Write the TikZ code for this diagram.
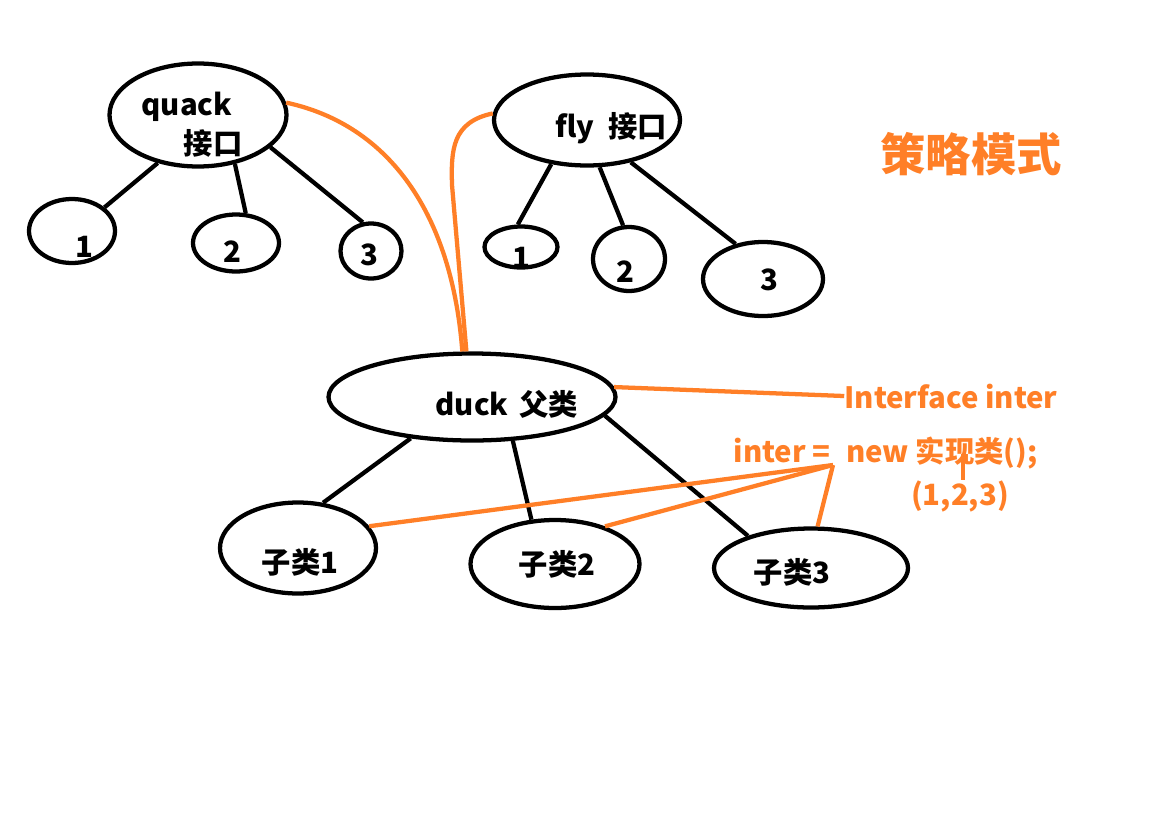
\documentclass[tikz,border=0pt]{standalone}
\usepackage{fontspec}
\setmainfont{Noto Sans CJK SC}
\usetikzlibrary{shapes.geometric}
\definecolor{paintorange}{HTML}{FF7F27}

\begin{document}
\begin{tikzpicture}[
    x=0.75pt, y=-0.75pt,
    oval/.style 2 args={ellipse, draw, line width=3.2pt, inner sep=0pt,
                 minimum width=#1*0.75pt, minimum height=#2*0.75pt},
    lbl/.style={anchor=base, inner sep=0pt, font=\fontsize{22}{26}\selectfont\bfseries},
    olbl/.style={lbl, text=paintorange},
    link/.style={line width=3.2pt},
    olink/.style={line width=3.2pt, paintorange}
  ]
  \fill[white] (0,0) rectangle (1173,814);

  % quack interface
  \node[oval={177}{103}] (quack) at (198,115) {};
  \node[lbl] (quacktxt) at (187,115) {quack};
  \node[lbl] (quackcn) at (213,154) {接口};
  \node[oval={86}{64}] (q1) at (72,231) {};
  \node[oval={86}{57}] (q2) at (236,243) {};
  \node[oval={61}{55}] (q3) at (371,251) {};
  \node[lbl] (q1txt) at (84,257) {1};
  \node[lbl] (q2txt) at (232,262) {2};
  \node[lbl] (q3txt) at (369,265) {3};
  \draw[link] (quack.230) -- (q1.36);
  \draw[link] (quack.-53) -- (q2.72);
  \draw[link] (quack.-24) -- (q3.106);

  % fly interface
  \node[oval={186}{91}] (fly) at (587,120) {};
  \node[lbl] (flytxt) at (611,137) {fly\hspace{0.25em} 接口};
  \node[oval={73}{41}] (f1) at (521,247) {};
  \node[oval={72}{64}] (f2) at (629,259) {};
  \node[oval={120}{74}] (f3) at (763,279) {};
  \node[lbl] (f1txt) at (521,268) {1};
  \node[lbl] (f2txt) at (625,282) {2};
  \node[lbl] (f3txt) at (769,290) {3};
  \draw[link] (fly.-129) -- (f1.98);
  \draw[link] (fly.-75) -- (f2.100);
  \draw[link] (fly.-44) -- (f3.128);

  % duck and subclasses
  \node[oval={287}{87}] (duck) at (472,397) {};
  \node[lbl] (ducktxt) at (507,415) {duck\hspace{0.15em} 父类};
  \node[oval={156}{91}] (s1) at (298,548) {};
  \node[oval={169}{88}] (s2) at (555,564) {};
  \node[oval={194}{79}] (s3) at (811,568) {};
  \node[lbl] (s1txt) at (300,573) {子类1};
  \node[lbl] (s2txt) at (557,575) {子类2};
  \node[lbl] (s3txt) at (792,583) {子类3};
  \draw[link] (duck.-146) -- (s1.61);
  \draw[link] (duck.-47) -- (s2.118);
  \draw[link] (duck.-8) -- (s3.153);

  % orange notes
  \node[olbl, font=\fontsize{34}{40}\selectfont\bfseries] (title) at (971,171) {策略模式};
  \node[olbl] (iface) at (951,408) {Interface inter};
  \node[olbl] (assign) at (782,462) {inter =};
  \node[olbl] (newimpl) at (942,462) {new 实现类();};
  \node[olbl] (tuple) at (960,505) {(1,2,3)};
  \coordinate (eqpt) at (833,465);
  \coordinate (tick) at (963,454);

  \draw[olink] (quack.8) .. controls (390,125) and (452,215) .. (duck.102);
  \draw[olink] (fly.176) .. controls (452,122) and (451,150) .. (452,185) -- (duck.97);
  \draw[olink] (duck.4) -- (iface.west);
  \draw[olink] (eqpt) -- (s1.17);
  \draw[olink] (eqpt) -- (s2.37);
  \draw[olink] (eqpt) -- (s3.81);
  \draw[olink] (tick) -- (tick |- tuple.north);

\end{tikzpicture}
\end{document}
